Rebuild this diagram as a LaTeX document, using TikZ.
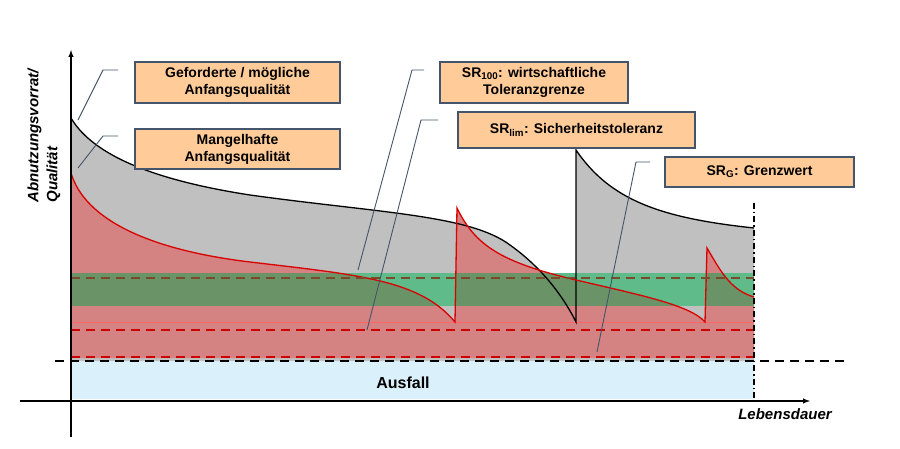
\documentclass[tikz,border=0pt]{standalone}
\usepackage{fontspec}
\setmainfont{Liberation Sans}
\begin{document}
\begin{tikzpicture}[x=1pt,y=-1pt,
  box/.style={draw=boxline,line width=1.4pt,fill=boxfill,font=\bfseries\fontsize{14}{17}\selectfont,align=center,inner sep=0pt},
  leader/.style={draw=boxline,line width=0.9pt}]
\definecolor{boxfill}{HTML}{FFCC99}
\definecolor{boxline}{HTML}{44546A}
\definecolor{redfill}{HTML}{D48282}
\definecolor{greyfill}{HTML}{C0C0C0}
\definecolor{greenband}{HTML}{5FBB8A}
\definecolor{greendark}{HTML}{6A9468}
\definecolor{bluefill}{HTML}{DAF0FA}
\definecolor{brownline}{HTML}{7A4A2A}
\useasboundingbox (0,0) rectangle (900,449);
% Ausfall
\fill[bluefill] (71,361) rectangle (754,399);
% grey under black curve
\fill[greyfill] (71,118) .. controls (90,150) and (140,178) .. (250,195)
  .. controls (380,213) and (470,215) .. (510,245)
  .. controls (545,270) and (565,300) .. (576,322) -- (576,150)
  .. controls (610,200) and (660,218) .. (754,228) -- (754,361) -- (71,361) -- cycle;
% red area
\def\redcurve{(71,173) .. controls (85,220) and (150,250) .. (250,262)
  .. controls (360,275) and (420,280) .. (455,322) -- (457,208)
  .. controls (475,245) and (500,262) .. (576,280)
  .. controls (640,295) and (690,305) .. (705,322) -- (707,248)
  .. controls (720,270) and (730,290) .. (754,297)}
\fill[redfill] \redcurve -- (754,358) -- (71,358) -- cycle;
% green band
\fill[greenband] (71,273) rectangle (754,306);
\begin{scope}
\clip \redcurve -- (754,358) -- (71,358) -- cycle;
\fill[greendark] (71,273) rectangle (754,306);
\end{scope}
\draw[red!60,line width=0.4pt] (71,322) -- (754,322);
% curves
\draw[black,line width=1.3pt] (71,118) .. controls (90,150) and (140,178) .. (250,195)
  .. controls (380,213) and (470,215) .. (510,245)
  .. controls (545,270) and (565,300) .. (576,322) -- (576,150)
  .. controls (610,200) and (660,218) .. (754,228);
\draw[red!85!black,line width=1.3pt] \redcurve;
% dashed lines
\draw[brownline,dash pattern=on 9pt off 6pt,line width=1.3pt] (71,278) -- (754,278);
\draw[red!80!black,dash pattern=on 9pt off 6pt,line width=1.3pt] (71,330) -- (754,330);
\draw[red!80!black,dash pattern=on 9pt off 6pt,line width=1.3pt] (71,357) -- (754,357);
\draw[black,dash pattern=on 9pt off 6pt,line width=1.5pt] (55,361) -- (845,361);
\draw[black,dash pattern=on 6pt off 3pt on 1.5pt off 3pt,line width=1.3pt] (754,203) -- (754,401);
% axes
\draw[line width=1.4pt,-latex] (71,437) -- (71,50);
\draw[line width=1.4pt,-latex] (20,401) -- (810,401);
\node[font=\bfseries\itshape\fontsize{15}{19}\selectfont,rotate=90,align=left] (ylab) at (44,136) {Abnutzungsvorrat/\\Qualität};
\node[font=\bfseries\itshape\fontsize{15}{18}\selectfont] (xlab) at (785,414) {Lebensdauer};
\node[font=\bfseries\fontsize{16}{19}\selectfont] (aus) at (403,383) {Ausfall};
% boxes
\node[box,minimum width=205pt,minimum height=41pt] (b1) at (237.5,82.5) {Geforderte / mögliche\\Anfangsqualität};
\node[box,minimum width=205pt,minimum height=40pt] (b2) at (237.5,149) {Mangelhafte\\Anfangsqualität};
\node[box,minimum width=188pt,minimum height=41pt] (b3) at (534,82.5) {SR\textsubscript{100}: wirtschaftliche\\Toleranzgrenze};
\node[box,minimum width=237pt,minimum height=36pt] (b4) at (576.5,130) {SR\textsubscript{lim}: Sicherheitstoleranz};
\node[box,minimum width=189pt,minimum height=30pt] (b5) at (759.5,172) {SR\textsubscript{G}: Grenzwert};
% leaders
\coordinate (l1) at (78,120); \coordinate (l2) at (78,168);
\coordinate (l3) at (358,270); \coordinate (l4) at (367,330); \coordinate (l5) at (597,352);
\draw[leader] (l1) -- (103,70) -- (118,70);
\draw[leader] (l2) -- (103,136) -- (118,136);
\draw[leader] (l3) -- (412,70) -- (424,70);
\draw[leader] (l4) -- (421,120) -- (438,120);
\draw[leader] (l5) -- (636,162) -- (650,162);
\end{tikzpicture}
\end{document}
